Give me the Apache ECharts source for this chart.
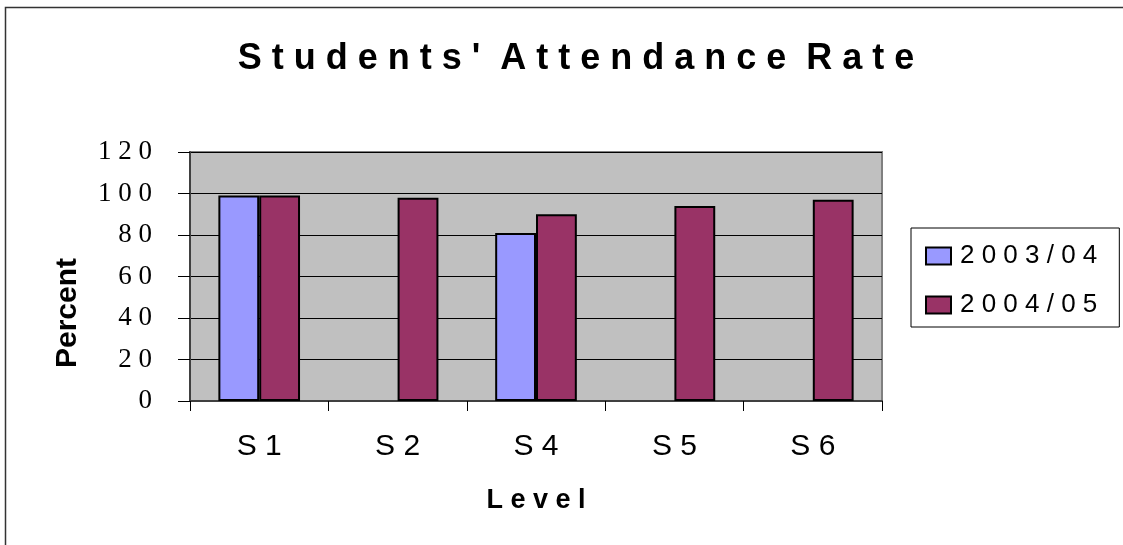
<!DOCTYPE html>
<html>
<head>
<meta charset="utf-8">
<script src="https://cdn.jsdelivr.net/npm/echarts@6.0.0/dist/echarts.min.js"></script>
<style>
  html, body { margin: 0; padding: 0; background: #fff; }
  #chart { width: 1123px; height: 545px; }
</style>
</head>
<body>
<div id="chart"></div>
<script>
const levels = ["S1", "S2", "S4", "S5", "S6"];
const rate0304 = [99, null, 81, null, null];
const rate0405 = [99, 98, 90, 94, 97];
const yTicks = { min: 0, max: 120, step: 20 };

const sans = '"Liberation Sans", Arial, sans-serif';
// spread letters apart like the original
const spaced = (s) => s.split("").join(" ");
const spacedTitle = (s) => s.split(" ").map(w => w.split("").join(" ")).join("  ");

const chart = echarts.init(document.getElementById("chart"));

const option = {
  animation: false,
  backgroundColor: "#fff",
  title: {
    text: spacedTitle("Students' Attendance Rate"),
    left: 571,
    textAlign: "center",
    top: 36,
    textStyle: { fontFamily: sans, fontWeight: "bold", fontSize: 36, color: "#000" }
  },
  legend: {
    left: 911,
    top: 228,
    orient: "vertical",
    padding: [15, 22, 9, 14],
    itemGap: 23,
    itemWidth: 25,
    itemHeight: 17,
    borderColor: "#000",
    borderWidth: 1,
    borderRadius: 0,
    icon: "rect",
    textStyle: { fontFamily: sans, fontSize: 26, color: "#000", lineHeight: 17, padding: [0, 0, 0, 4] },
    formatter: (name) => spaced(name),
    data: ["2003/04", "2004/05"]
  },
  grid: {
    left: 190, top: 152, right: 241, bottom: 144,
    show: true,
    backgroundColor: "#c0c0c0",
    borderColor: "#808080",
    borderWidth: 2
  },
  xAxis: {
    type: "category",
    data: levels,
    name: spaced("Level"),
    nameLocation: "middle",
    nameGap: 86,
    nameTextStyle: { fontFamily: sans, fontWeight: "bold", fontSize: 27, color: "#000" },
    axisLine: { lineStyle: { color: "#404040", width: 2 } },
    axisTick: { show: true, length: 10, lineStyle: { color: "#000", width: 1 } },
    axisLabel: { margin: 31, fontFamily: sans, fontSize: 30, color: "#000", formatter: (v) => spaced(v) },
    splitLine: { show: false }
  },
  yAxis: {
    type: "value",
    min: yTicks.min,
    max: yTicks.max,
    interval: yTicks.step,
    axisLine: { show: true, lineStyle: { color: "#404040", width: 2 } },
    axisTick: { show: true, length: 12, lineStyle: { color: "#000", width: 1 } },
    axisLabel: { margin: 38, fontFamily: '"Liberation Serif", "DejaVu Serif", serif', fontSize: 27, color: "#000", formatter: (v) => spaced(String(v)) },
    splitLine: { show: true, lineStyle: { color: "#000", width: 1 } }
  },
  graphic: [
    {
      type: "rect",
      shape: { x: 5.5, y: 7.5, width: 1300, height: 700 },
      style: { fill: "none", stroke: "#333", lineWidth: 1.5 },
      silent: true
    },
    {
      type: "text",
      x: 68,
      y: 313,
      rotation: Math.PI / 2,
      style: {
        text: "Percent",
        font: 'bold 30px "Liberation Sans", Arial, sans-serif',
        fill: "#000",
        align: "center",
        verticalAlign: "middle"
      }
    }
  ],
  series: [
    {
      name: "2003/04",
      type: "bar",
      data: rate0304,
      barGap: "0%",
      barCategoryGap: "41%",
      itemStyle: { color: "#9999ff", borderColor: "#000", borderWidth: 2 }
    },
    {
      name: "2004/05",
      type: "bar",
      data: rate0405,
      itemStyle: { color: "#993366", borderColor: "#000", borderWidth: 2 }
    }
  ]
};

chart.setOption(option);
</script>
</body>
</html>
